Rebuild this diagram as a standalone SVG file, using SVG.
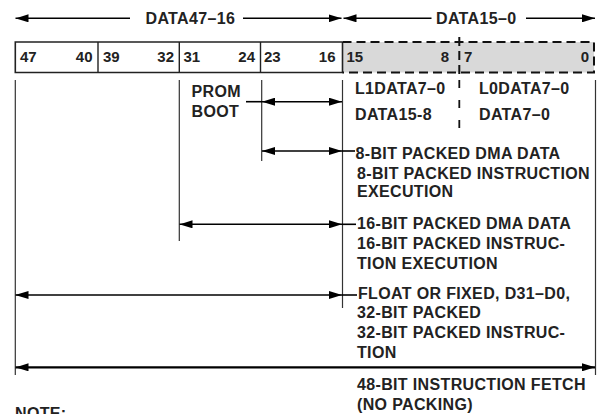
<svg xmlns="http://www.w3.org/2000/svg" width="601" height="414" viewBox="0 0 601 414">
<defs>
<marker id="ah" viewBox="0 0 13 8" refX="13" refY="4" markerWidth="13" markerHeight="8" markerUnits="userSpaceOnUse" orient="auto-start-reverse">
<path d="M0,0 L13,4 L0,8 Z" fill="#000"/>
</marker>
<style>
.t{font-family:"Liberation Sans",Arial,sans-serif;font-weight:bold;font-size:16px;fill:#222;letter-spacing:0.35px}
.n{font-family:"Liberation Sans",Arial,sans-serif;font-weight:bold;font-size:15px;fill:#222}
.ln{stroke:#333;stroke-width:1.2;fill:none}
.ar{stroke:#000;stroke-width:1.6;fill:none}
.dash{stroke:#111;stroke-width:2;fill:none;stroke-dasharray:9 5}
</style>
</defs>
<rect width="601" height="414" fill="#fff"/>
<g id="register">
<rect x="342.5" y="42" width="251.5" height="30.5" fill="#d9d9d9"/>
<path d="M342.5,42 L15.3,42 L15.3,72.5 L342.5,72.5 L342.5,42" fill="#fff" stroke="#222" stroke-width="1.6"/>
<path d="M342.5,42 H594 V72.5 H342.5" class="dash"/>
<line x1="459.3" y1="37" x2="459.3" y2="75" class="dash"/>
<line x1="98" y1="42" x2="98" y2="72.5" stroke="#222" stroke-width="1.4"/>
<line x1="179.3" y1="42" x2="179.3" y2="72.5" stroke="#222" stroke-width="1.4"/>
<line x1="260.5" y1="42" x2="260.5" y2="72.5" stroke="#222" stroke-width="1.4"/>
<text class="n" x="20" y="62">47</text>
<text class="n" x="92.5" y="62" text-anchor="end">40</text>
<text class="n" x="103" y="62">39</text>
<text class="n" x="174" y="62" text-anchor="end">32</text>
<text class="n" x="183.5" y="62">31</text>
<text class="n" x="255" y="62" text-anchor="end">24</text>
<text class="n" x="264" y="62">23</text>
<text class="n" x="335.5" y="62" text-anchor="end">16</text>
<text class="n" x="346.5" y="62">15</text>
<text class="n" x="449" y="62" text-anchor="end">8</text>
<text class="n" x="464" y="62">7</text>
<text class="n" x="589" y="62" text-anchor="end">0</text>
</g>
<g id="guides">
<line x1="15.3" y1="80" x2="15.3" y2="375" class="ln"/>
<line x1="179.3" y1="80" x2="179.3" y2="241" class="ln"/>
<line x1="261.7" y1="80" x2="261.7" y2="161" class="ln"/>
<line x1="342.5" y1="80" x2="342.5" y2="308" class="ln"/>
<line x1="459.3" y1="80" x2="459.3" y2="130" stroke="#111" stroke-width="1.8" stroke-dasharray="8 12"/>
<line x1="595.5" y1="80" x2="595.5" y2="375" class="ln"/>
</g>
<g id="connectors">
<line x1="130" y1="18.3" x2="15.5" y2="18.3" class="ar" marker-end="url(#ah)"/>
<line x1="243" y1="18.3" x2="341.5" y2="18.3" class="ar" marker-end="url(#ah)"/>
<line x1="431.5" y1="18.3" x2="343.5" y2="18.3" class="ar" marker-end="url(#ah)"/>
<line x1="526" y1="18.3" x2="595" y2="18.3" class="ar" marker-end="url(#ah)"/>
<line x1="246" y1="101.7" x2="262" y2="101.7" class="ar"/>
<line x1="262" y1="101.7" x2="342" y2="101.7" class="ar" marker-start="url(#ah)" marker-end="url(#ah)"/>
<line x1="262" y1="151" x2="342" y2="151" class="ar" marker-start="url(#ah)" marker-end="url(#ah)"/>
<line x1="342" y1="151" x2="355" y2="151" class="ar"/>
<line x1="179.5" y1="224.3" x2="342" y2="224.3" class="ar" marker-start="url(#ah)" marker-end="url(#ah)"/>
<line x1="342" y1="224.3" x2="356" y2="224.3" class="ar"/>
<line x1="15.5" y1="295" x2="342" y2="295" class="ar" marker-start="url(#ah)" marker-end="url(#ah)"/>
<line x1="342" y1="295" x2="357" y2="295" class="ar"/>
<line x1="15.5" y1="367.3" x2="595" y2="367.3" stroke="#000" stroke-width="2.2" marker-start="url(#ah)" marker-end="url(#ah)"/>
</g>
<g id="labels">
<text class="t" x="145.5" y="23.5">DATA47–16</text>
<text class="t" x="436" y="23.5">DATA15–0</text>
<text class="t" x="191.5" y="97">PROM</text>
<text class="t" x="191.5" y="117">BOOT</text>
<text class="t" x="355" y="94">L1DATA7–0</text>
<text class="t" x="479" y="94">L0DATA7–0</text>
<text class="t" x="355" y="120">DATA15-8</text>
<text class="t" x="479" y="120">DATA7–0</text>
<text class="t" x="355.5" y="159">8-BIT PACKED DMA DATA</text>
<text class="t" x="357" y="179">8-BIT PACKED INSTRUCTION</text>
<text class="t" x="357" y="197">EXECUTION</text>
<text class="t" x="357" y="228.5">16-BIT PACKED DMA DATA</text>
<text class="t" x="357" y="248.5">16-BIT PACKED INSTRUC-</text>
<text class="t" x="357" y="268.5">TION EXECUTION</text>
<text class="t" x="358" y="299">FLOAT OR FIXED, D31–D0,</text>
<text class="t" x="357" y="318">32-BIT PACKED</text>
<text class="t" x="357" y="338">32-BIT PACKED INSTRUC-</text>
<text class="t" x="357" y="358">TION</text>
<text class="t" x="357" y="390">48-BIT INSTRUCTION FETCH</text>
<text class="t" x="357" y="410">(NO PACKING)</text>
<text class="t" x="15" y="419">NOTE:</text>
</g>
</svg>
